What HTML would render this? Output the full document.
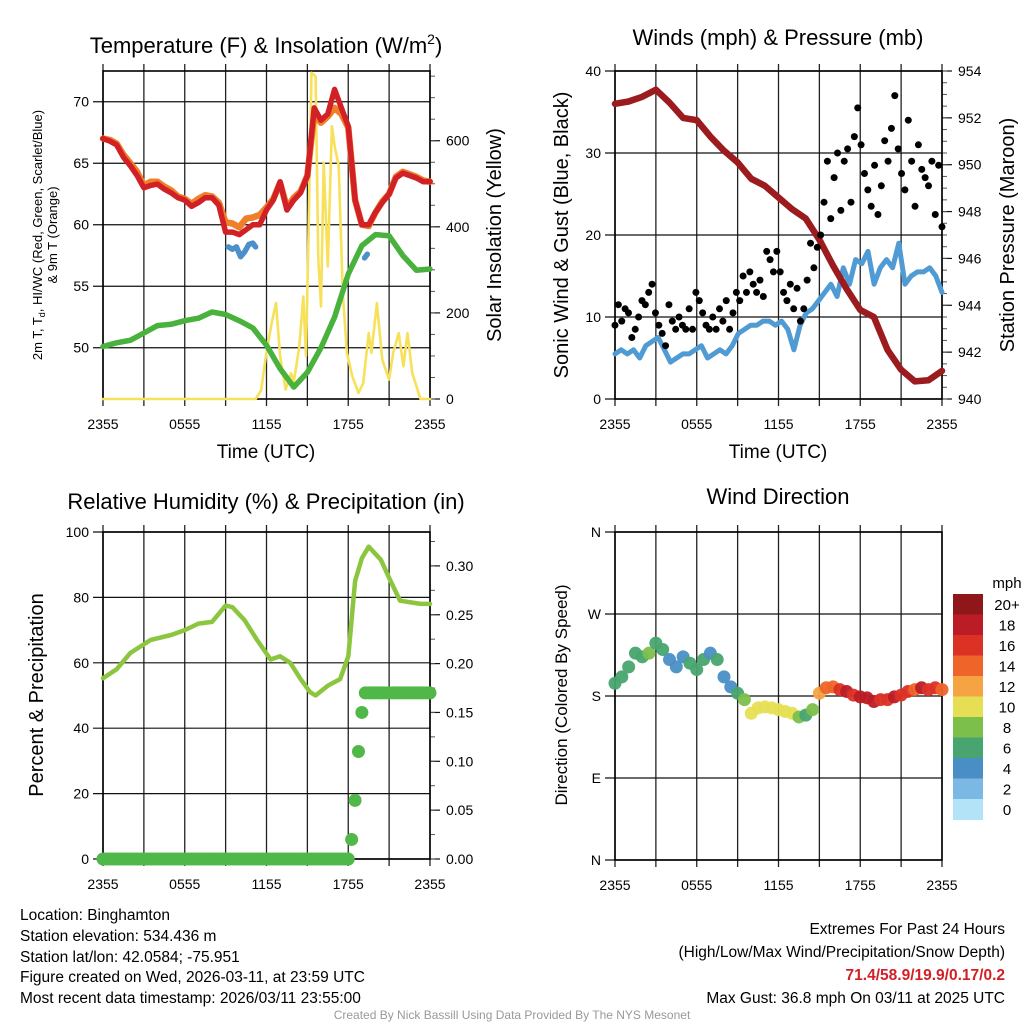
<!DOCTYPE html>
<html><head><meta charset="utf-8"><style>
html,body{margin:0;padding:0;background:#fff;}
svg{display:block;font-family:"Liberation Sans",sans-serif;}
.n{font-family:"Liberation Sans Narrow","Liberation Sans",sans-serif;}
</style></head><body>
<svg id="chart" width="1024" height="1024" viewBox="0 0 1024 1024" xmlns="http://www.w3.org/2000/svg"></svg>
<script>
// ---- data ----
const xTickLabels = ["2355","0555","1155","1755","2355"];
const tempRed = [67,66.8,66.5,65.5,64.8,64,63,63.2,63.3,62.9,62.6,62.2,62,61.5,61.8,62.2,62.2,61.6,59.4,59.4,59.2,59.6,60,60,61.2,62,63.5,61.2,62,62.6,64,69.5,68.5,69,71,69.5,68,62,60,60,61,61.8,62.5,63.8,64.2,64,63.8,63.5,63.5];
const temp9m = [67,66.9,66.6,65.7,65,64.3,63.2,63.5,63.5,63.1,62.8,62.3,62.1,61.7,62.1,62.4,62.3,61.8,60.2,60.1,59.8,60.5,60.6,60.8,61.4,62.1,63.4,61.4,62.2,62.7,64,69,68.3,68.8,69.5,69,67.9,62,60,59.9,61,61.9,62.5,63.9,64.3,64.1,63.9,63.6,63.5];
const dewpoint = [50.1,50.4,50.6,51.2,51.8,51.9,52.2,52.4,52.9,52.7,52.2,51.6,50.2,48.3,46.8,48,50,52.5,56,58.3,59.2,59.1,57.5,56.3,56.4];
const hiTimes = [9.2,9.5,9.8,10.1,10.4,10.7,11,11.2];
const hiVals = [58.2,58,58.2,57.4,57.8,58.4,58.5,58.2];
const hi2Times = [19.2,19.4];
const hi2Vals = [57.3,57.6];
const solarTimes = [0,11.2,11.6,12.0,12.4,12.7,13.0,13.4,13.8,14.0,14.4,14.7,14.9,15.1,15.3,15.6,15.8,16.0,16.2,16.5,16.8,17.0,17.3,17.6,17.9,18.3,18.75,19.1,19.5,19.7,20.1,20.5,21,21.3,21.7,22.05,22.35,22.7,23.3,24];
const solarVals = [0,0,20,110,180,223,100,22,60,40,120,238,100,400,758,750,324,215,549,308,634,588,541,246,107,53,14,37,153,107,223,91,45,107,153,76,153,60,0,0];
const pressure = [952.6,952.7,952.9,953.2,952.65,952.0,951.9,951.2,950.6,950.1,949.4,949.1,948.6,948.1,947.7,946.8,945.7,944.7,943.8,943.5,942.1,941.25,940.75,940.8,941.2];
const windSpeed = [5.5,6,5.5,6,5,6.5,7,7.5,6,4.5,5,5.5,5.5,6,6.5,5,5.5,6,5.5,6.5,8,8.5,9,9,9.5,9.5,9,9.5,8.5,6,9,10.5,11,12,13,14,12.5,16,14,17,16.5,18,14,16,17,16,19,14,15,15.5,15.5,16,15,13];
const gusts = [9,11.5,9.5,11,10.5,7.5,8.5,10,12,11.5,13,14,10.5,
 9,8,6.5,11.5,9.5,8.5,10,9,8.5,11,8.5,13,
 12,10.5,9,8.5,10,8.5,11,9.5,12,8.5,10.5,13,
 12,15,13,15.5,14,13,14.5,12.5,18,17,15.5,18,
 15.5,13,12,14,11,13.5,9.5,11,14.5,19,16,18.5,
 20,24,29,22,27,30,23,29,30.5,24,32,35.5,
 31,27.5,25.5,23.5,28.5,22.5,26,31.5,29,33,37,30.5,
 27.5,25.5,34,29,23.5,31,28,27,26,29,22.5,28.5,21];
const rhTimes = [0,1,2,3.5,5,6,7,8,9,9.5,10.4,11.3,12.3,13,13.75,14.5,15.2,15.6,16.5,17.4,18,18.5,19,19.5,20.4,21,21.8,23.3,24];
const rhVals = [55.3,58,63,67,68.5,70,72,72.5,77.5,77,73,67,61,62,60,55,51,50,53,55,62,85,92,95.5,91.5,86,79,78,78];
const precip = [0,0,0,0,0,0,0,0,0,0,0,0,0,0,0,0,0,0,0,0,0,0,0,0,0,0,0,0,0,0,0,0,0,0,0,0,0,0,0,0,0,0,0,0,0,0,0,0,0,0,0,0,0,0,0,0,0,0,0,0,0,0,0,0,0,0,0,0,0,0,0,0,0,0.02,0.06,0.11,0.15,0.17,0.17,0.17,0.17,0.17,0.17,0.17,0.17,0.17,0.17,0.17,0.17,0.17,0.17,0.17,0.17,0.17,0.17,0.17,0.17];
const windDir = [194,201,212,227,223,227,238,231,220,212,223,216,209,220,227,220,201,190,183,176,161,167,168,167,165,163,161,157,159,165,183,189,190,187,185,181,179,178,174,176,176,179,181,185,187,189,187,189,187];
const dirSpeed = [6,6,6,7,7,8,7,6,4,4,4,6,6,6,5,6,4,4,6,8,10,10,10,10,10,11,10,8,7,8,12,14,15,17,18,17,19,18,19,17,16,18,16,17,14,18,16,17,14];
const cbLabels = ["20+","18","16","14","12","10","8","6","4","2","0"];
const cbColors = ["#8f1619","#bc1c25","#dc3226","#ee6429","#f6a443","#e6df55","#7cc04b","#48a56f","#4a8ec6","#7bb8e3","#b3e3f6"];

const NS='http://www.w3.org/2000/svg';
const svg=document.getElementById('chart');
function mk(tag,attrs,parent){const e=document.createElementNS(NS,tag);for(const k in attrs)e.setAttribute(k,attrs[k]);(parent||svg).appendChild(e);return e;}
function txt(s,x,y,size,anchor,extra){const e=mk('text',Object.assign({x:x,y:y,'font-size':size,'text-anchor':anchor||'middle',fill:'#000'},extra||{}));e.textContent=s;return e;}

function panel(name,x0,x1,y0,y1,lmin,lmax,ltickVals,ltickFmt,rmin,rmax,rtickVals,rtickFmt,rMinor){
  const g=mk('g',{});
  
  
  const P={x0,x1,y0,y1,g,
    sx:t=>x0+t/24*(x1-x0),
    sy:v=>y1-(v-lmin)/(lmax-lmin)*(y1-y0),
    ry:v=>y1-(v-rmin)/(rmax-rmin)*(y1-y0)};
  for(let t=0;t<=24;t+=3){
    const l=mk('line',{x1:P.sx(t),x2:P.sx(t),y1:y0-7,y2:y1+7,stroke:'#222','stroke-width':1.3},g);
    
    
  }
  xTickLabels.forEach((s,i)=>{const e=txt(s,P.sx(i*6),y1+30,14,'middle');g.appendChild(e);});
  ltickVals.forEach(v=>{
    const y=P.sy(v);
    const l=mk('line',{x1:x0-10,x2:x1,y1:y,y2:y,stroke:'#111','stroke-width':1.2},g);
    
    
    const e=txt(ltickFmt(v),x0-14,y+5,14,'end');
    
    
    g.appendChild(e);
  });
  if(rtickVals){
    rtickVals.forEach(v=>{
      const y=P.ry(v);
      const l=mk('line',{x1:x1,x2:x1+10,y1:y,y2:y,stroke:'#111','stroke-width':1.2},g);
      
      
      const e=txt(rtickFmt(v),x1+16,y+5,14,'start');
      
      
      g.appendChild(e);
    });
    if(rMinor){for(let v=rmin;v<=rmax+1e-9;v+=rMinor){const y=P.ry(v);mk('line',{x1:x1,x2:x1+5,y1:y,y2:y,stroke:'#555','stroke-width':1},g);}}
  }
  const f=mk('rect',{x:x0,y:y0,width:x1-x0,height:y1-y0,fill:'none',stroke:'#000','stroke-width':1.6},g);
  
  
  return P;
}
function line(P,xs,ys,yf,color,w,name){
  const d=xs.map((t,i)=>(i?'L':'M')+P.sx(t).toFixed(1)+','+yf(ys[i]).toFixed(1)).join('');
  const p=mk('path',{d:d,fill:'none',stroke:color,'stroke-width':w,'stroke-linejoin':'round','stroke-linecap':'round'});
  
  
  return p;
}
function idxTimes(arr){return arr.map((_,i)=>i*24/(arr.length-1));}

// ---- Panel 1: temperature ----
const P1=panel('temperature-panel',103,430,71,399,45.83,72.5,[50,55,60,65,70],v=>String(v),0,762,[0,200,400,600],v=>String(v),50);
line(P1,solarTimes,solarVals,P1.ry,'#f7e15a',2.6,'solar-insolation-line');
line(P1,idxTimes(dewpoint),dewpoint,P1.sy,'#48b23c',5.5,'dewpoint-line');
line(P1,idxTimes(temp9m),temp9m,P1.sy,'#f07f2a',6.5,'temp-9m-line');
line(P1,idxTimes(tempRed),tempRed,P1.sy,'#d22027',5.5,'temp-2m-line');
line(P1,hiTimes,hiVals,P1.sy,'#4b8fcb',5.5,'heat-index-windchill-line');
line(P1,hi2Times,hi2Vals,P1.sy,'#4b8fcb',5.5,'heat-index-windchill-segment');
let e;
e=mk('text',{x:266,y:53,'font-size':22,'text-anchor':'middle'});e.innerHTML='Temperature (F) &amp; Insolation (W/m<tspan dy="-9" font-size="14">2</tspan><tspan dy="9">)</tspan>';

e=mk('text',{x:0,y:0,'font-size':13,'text-anchor':'middle',transform:'translate(42,235) rotate(-90)'});e.innerHTML='2m T, T<tspan dy="3" font-size="9">d</tspan><tspan dy="-3">, HI/WC (Red, Green, Scarlet/Blue)</tspan>';

e=txt('& 9m T (Orange)',0,0,13,'middle',{transform:'translate(57,235) rotate(-90)'});

e=txt('Solar Insolation (Yellow)',0,0,20,'middle',{transform:'translate(501,235) rotate(-90)'});

e=txt('Time (UTC)',266,458,19,'middle');


// ---- Panel 2: winds ----
const P2=panel('winds-panel',615,942,71,399,0,40,[0,10,20,30,40],v=>String(v),940,954,[940,942,944,946,948,950,952,954],v=>String(v),0.5);
line(P2,idxTimes(windSpeed),windSpeed,P2.sy,'#519bd4',5,'sonic-wind-line');
line(P2,idxTimes(pressure),pressure,P2.ry,'#9b1b1e',6.5,'station-pressure-line');
idxTimes(gusts).forEach((t,i)=>{
  const c=mk('circle',{cx:P2.sx(t),cy:P2.sy(gusts[i]),r:3.5,fill:'#000'});
  
  
});
e=txt('Winds (mph) & Pressure (mb)',778,45,22,'middle');

e=txt('Sonic Wind & Gust (Blue, Black)',0,0,20,'middle',{transform:'translate(568,235) rotate(-90)'});

e=txt('Station Pressure (Maroon)',0,0,20,'middle',{transform:'translate(1014,235) rotate(-90)'});

e=txt('Time (UTC)',778,458,19,'middle');


// ---- Panel 3: humidity ----
const P3=panel('humidity-panel',103,430,532,859,0,100,[0,20,40,60,80,100],v=>String(v),0,0.3347,[0,0.05,0.1,0.15,0.2,0.25,0.3],v=>v.toFixed(2),0.025);
line(P3,rhTimes,rhVals,P3.sy,'#8cc63f',4.5,'relative-humidity-line');
idxTimes(precip).forEach((t,i)=>{
  const c=mk('circle',{cx:P3.sx(t),cy:P3.ry(precip[i]),r:6.5,fill:'#4fb848'});
  
  
});
e=txt('Relative Humidity (%) & Precipitation (in)',266,509,22,'middle');

e=txt('Percent & Precipitation',0,0,20,'middle',{transform:'translate(43,695) rotate(-90)'});


// ---- Panel 4: wind direction ----
const P4=panel('wind-direction-panel',615,942,532,860,0,360,[0,90,180,270,360],v=>({0:'N',90:'E',180:'S',270:'W',360:'N'})[v],0,1,null,null,0);
function speedColor(s){let k=Math.min(10,Math.floor(s/2));return cbColors[10-k];}
idxTimes(windDir).forEach((t,i)=>{
  const c=mk('circle',{cx:P4.sx(t),cy:P4.sy(windDir[i]),r:6.5,fill:speedColor(dirSpeed[i]),'fill-opacity':0.95});
  
  
});
e=txt('Wind Direction',778,504,22,'middle');

e=txt('Direction (Colored By Speed)',0,0,17,'middle',{transform:'translate(567,695) rotate(-90)'});

const cb=mk('g',{});


const cbTop=594,cbH=20.5;
cbColors.forEach((c,i)=>{
  const r=mk('rect',{x:953,y:cbTop+i*cbH,width:30,height:cbH+0.5,fill:c},cb);
  
  
  const t=txt(cbLabels[i],1007,cbTop+i*cbH+16,15,'middle');
  
  
  cb.appendChild(t);
});
e=txt('mph',1007,588,15,'middle');


// ---- footer ----
const leftLines=['Location: Binghamton','Station elevation: 534.436 m','Station lat/lon: 42.0584; -75.951','Figure created on Wed, 2026-03-11, at 23:59 UTC','Most recent data timestamp: 2026/03/11 23:55:00'];
const leftY=[920,941,962,982,1003];
leftLines.forEach((s,i)=>{const t=txt(s,20,leftY[i],15.5,'start',{'class':'n'});});
e=txt('Extremes For Past 24 Hours',1005,934,15.5,'end',{'class':'n'});

e=txt('(High/Low/Max Wind/Precipitation/Snow Depth)',1005,957,15.5,'end',{'class':'n'});

e=txt('71.4/58.9/19.9/0.17/0.2',1005,980,15.5,'end',{'class':'n','fill':'#d22027','font-weight':'bold'});

e=txt('Max Gust: 36.8 mph On 03/11 at 2025 UTC',1005,1003,15.5,'end',{'class':'n'});

e=txt('Created By Nick Bassill Using Data Provided By The NYS Mesonet',512,1019,12,'middle',{'class':'n','fill':'#999'});

</script>
</body></html>
